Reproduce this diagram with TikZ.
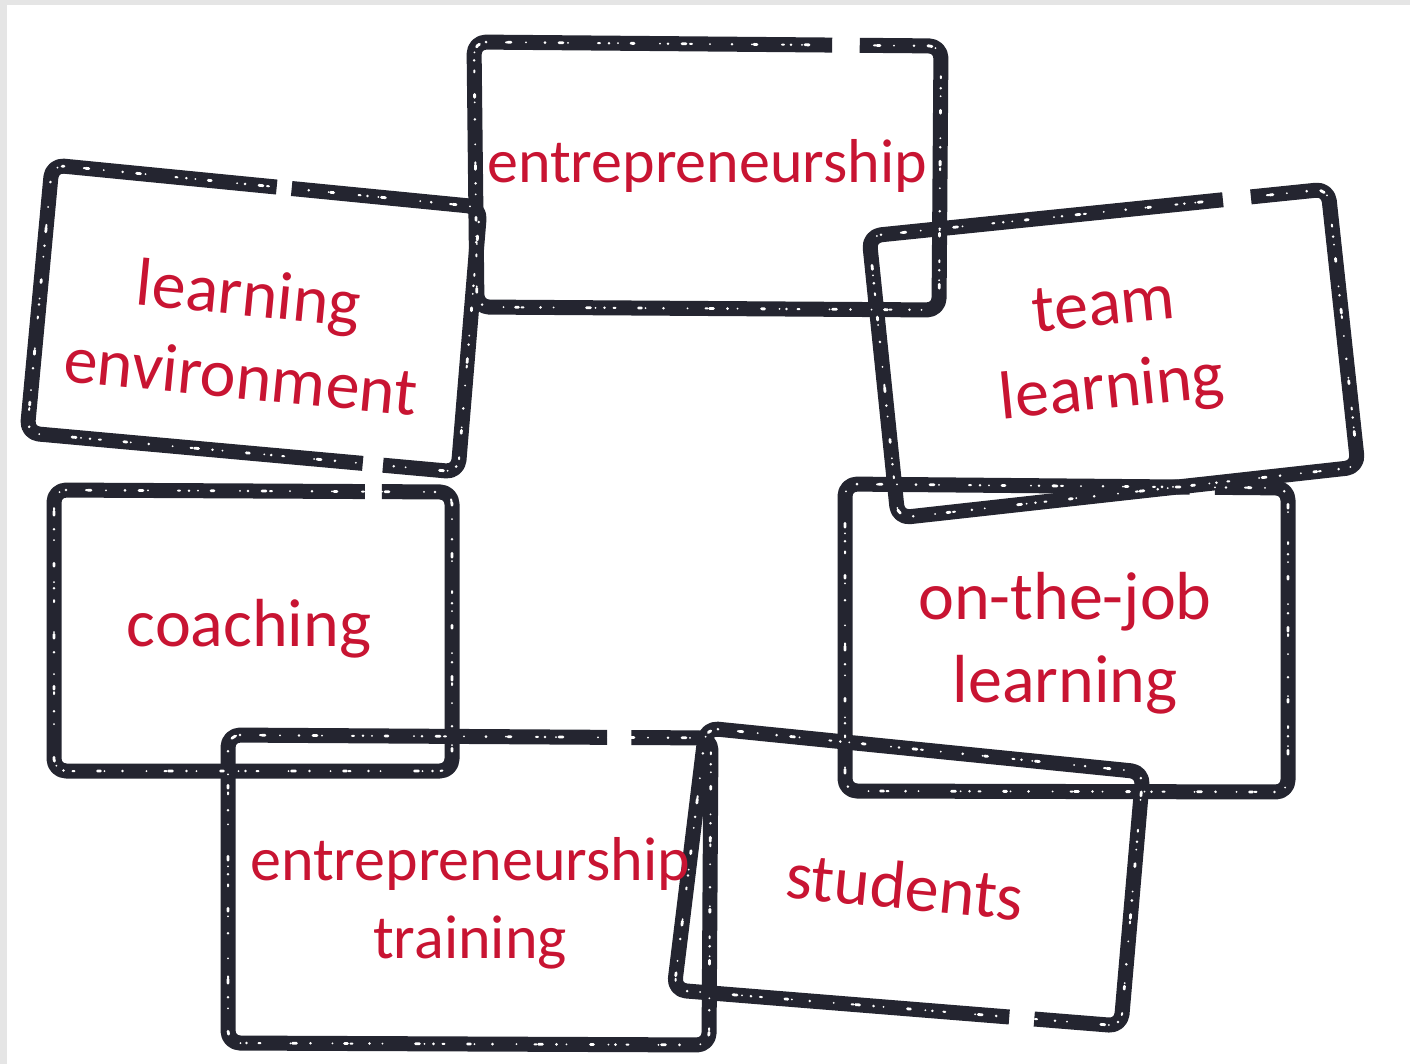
\documentclass[tikz,border=0pt]{standalone}
\usepackage{fontspec}
\setmainfont{Carlito}
\usetikzlibrary{calc}
\definecolor{ink}{RGB}{36,37,48}
\definecolor{stampred}{RGB}{200,20,50}
\definecolor{edgegray}{RGB}{229,229,229}
\tikzset{
  stampline/.style={draw=ink, line width=7.5pt, rounded corners=6pt, line cap=butt, line join=round},
  wear/.style={draw=white, line width=1.4pt, line cap=round, rounded corners=6pt, dash pattern=on 0pt off 11pt on 1.5pt off 17pt on 0pt off 7pt on 2pt off 23pt},
  wearb/.style={draw=white, line width=1pt, line cap=round, rounded corners=6pt, dash pattern=on 0pt off 15pt on 1pt off 9pt on 0pt off 21pt, dash phase=5pt},
  bigtxt/.style={text=stampred, font=\fontsize{34}{41.5}\selectfont, align=center, inner sep=0pt},
  midtxt/.style={text=stampred, font=\fontsize{31}{39}\selectfont, align=center, inner sep=0pt},
}
\begin{document}
\begin{tikzpicture}[x=0.5pt,y=-0.5pt]
\useasboundingbox (0,0) rectangle (1410,1064);
\fill[white] (0,0) rectangle (1410,1064);
\fill[edgegray] (0,0) rectangle (1410,5);
\fill[edgegray] (0,0) rectangle (7,1064);

% corners: 1 = top-left, 2 = top-right, 3 = bottom-right, 4 = bottom-left
\coordinate (e1) at (474,42);  \coordinate (e2) at (941,46);  \coordinate (e3) at (939,310);  \coordinate (e4) at (477,307);
\coordinate (l1) at (52,165);  \coordinate (l2) at (480,207); \coordinate (l3) at (458,472);  \coordinate (l4) at (27,433);
\coordinate (t1) at (869,236); \coordinate (t2) at (1328,189);\coordinate (t3) at (1358,467); \coordinate (t4) at (898,518);
\coordinate (c1) at (54,490);  \coordinate (c2) at (452,492); \coordinate (c3) at (452,771);  \coordinate (c4) at (54,771);
\coordinate (o1) at (845,484); \coordinate (o2) at (1288,488);\coordinate (o3) at (1288,792); \coordinate (o4) at (845,791);
\coordinate (r1) at (228,735); \coordinate (r2) at (711,738); \coordinate (r3) at (709,1045); \coordinate (r4) at (228,1043);
\coordinate (s1) at (706,728); \coordinate (s2) at (1143,772);\coordinate (s3) at (1121,1026);\coordinate (s4) at (674,990);

% entrepreneurship
\draw[stampline] ($(e1)!0.826!(e2)$) -- (e2) -- (e3) -- (e4) -- (e1) -- ($(e1)!0.767!(e2)$);
% learning environment
\draw[stampline] ($(l1)!0.56!(l2)$) -- (l2) -- (l3) -- ($(l4)!0.826!(l3)$);
\draw[stampline] ($(l4)!0.779!(l3)$) -- (l4) -- (l1) -- ($(l1)!0.525!(l2)$);
% team learning
\draw[stampline] ($(t1)!0.832!(t2)$) -- (t2) -- (t3) -- (t4) -- (t1) -- ($(t1)!0.771!(t2)$);
% coaching
\draw[stampline] ($(c1)!0.824!(c2)$) -- (c2) -- (c3) -- (c4) -- (c1) -- ($(c1)!0.781!(c2)$);
% on-the-job learning
\draw[stampline] ($(o1)!0.835!(o2)$) -- (o2) -- (o3) -- (o4) -- (o1) -- ($(o1)!0.778!(o2)$);
% entrepreneurship training
\draw[stampline] ($(r1)!0.835!(r2)$) -- (r2) -- (r3) -- (r4) -- (r1) -- ($(r1)!0.785!(r2)$);
% students
\draw[stampline] ($(s4)!0.806!(s3)$) -- (s3) -- (s2) -- (s1) -- (s4) -- ($(s4)!0.75!(s3)$);

% worn texture
\foreach \b in {e,l,t,c,o,r,s}{
  \draw[wear] (\b1) -- (\b2) -- (\b3) -- (\b4) -- cycle;
  \draw[wearb] (\b1) -- (\b2) -- (\b3) -- (\b4) -- cycle;
}

% labels
\node[midtxt] (tE) at (707,166) {entrepreneurship};
\node[bigtxt, rotate=-5.6] (tLE) at (245,334) {learning\\environment};
\node[bigtxt, rotate=5.8] (tTL) at (1108,351) {team\\learning};
\node[bigtxt] (tC) at (249,629) {coaching};
\node[bigtxt] (tO) at (1065,643) {on-the-job\\learning};
\node[midtxt] (tET) at (470,903) {entrepreneurship\\training};
\node[bigtxt, rotate=-5.5] (tS) at (905,886) {students};
\end{tikzpicture}
\end{document}
